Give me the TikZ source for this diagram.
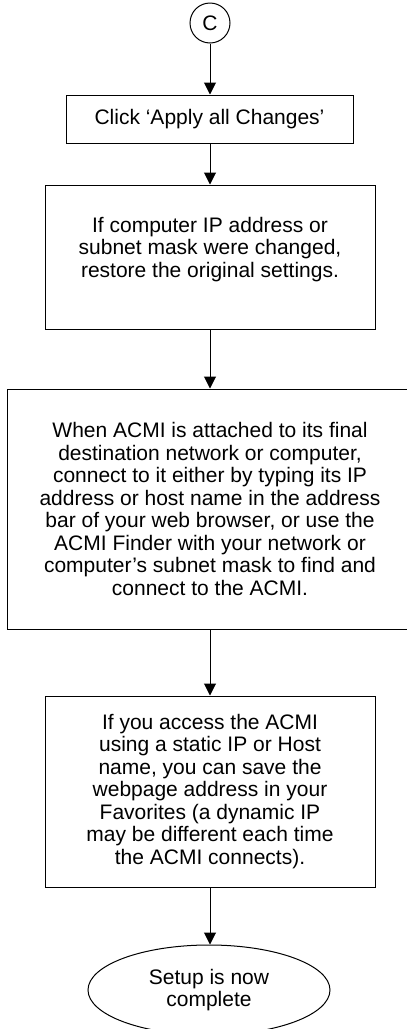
\documentclass[tikz,border=0pt]{standalone}
\usepackage{fontspec}
\setmainfont{Liberation Sans}
\usetikzlibrary{arrows.meta,shapes.geometric}
\begin{document}
\begin{tikzpicture}[x=1pt,y=-1pt,
  box/.style={draw, line width=1pt, rectangle, inner sep=0pt},
  txt/.style={align=center, font=\fontsize{21}{22.5}\selectfont, inner sep=0pt},
  arr/.style={-{Triangle[length=12pt,width=12pt]}, line width=1pt}]
\useasboundingbox (0,0) rectangle (407,1029);
\node[circle, draw, line width=1pt, minimum size=40pt, txt] (c) at (210,23) {C};
\node[box, txt, minimum width=287pt, minimum height=48pt] (b1) at (209.5,119) {Click ‘Apply all Changes’};
\node[box, minimum width=330pt, minimum height=144pt] (b2) at (210,257) {};
\node[txt] (t2) at (210,249.5) {If computer IP address or\\subnet mask were changed,\\restore the original settings.};
\node[box, txt, minimum width=406pt, minimum height=240pt] (b3) at (210,509) {When ACMI is attached to its final\\destination network or computer,\\connect to it either by typing its IP\\address or host name in the address\\bar of your web browser, or use the\\ACMI Finder with your network or\\computer’s subnet mask to find and\\connect to the ACMI.};
\node[box, txt, minimum width=330pt, minimum height=191pt] (b4) at (210,791.5) {If you access the ACMI\\using a static IP or Host\\name, you can save the\\webpage address in your\\Favorites (a dynamic IP\\may be different each time\\the ACMI connects).};
\node[ellipse, draw, line width=1pt, txt, minimum width=242pt, minimum height=90pt] (e) at (209,990) {Setup is now\\complete};
\draw[arr] (c.south) -- (c.south |- b1.north);
\draw[arr] (b1.south -| c) -- (c |- b2.north);
\draw[arr] (b2.south -| c) -- (c |- b3.north);
\draw[arr] (b3.south -| c) -- (c |- b4.north);
\draw[arr] (b4.south -| c) -- (c |- e.north);
\end{tikzpicture}
\end{document}
